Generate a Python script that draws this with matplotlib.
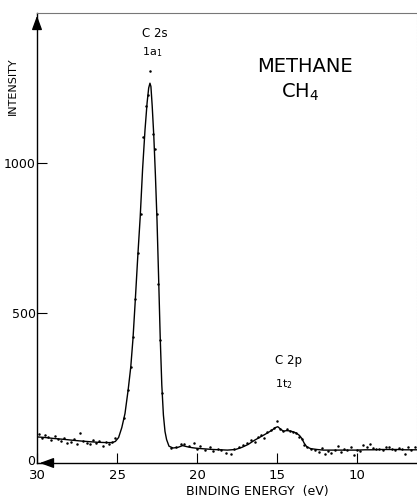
import matplotlib
matplotlib.use("Agg")
import matplotlib.pyplot as plt
import matplotlib.transforms as mtransforms

# ---------------------------------------------------------------------------
# Data
# ---------------------------------------------------------------------------
# smoothed curve through the measured points
curve_e = [30.0, 29.5, 29.0, 28.35, 27.8, 27.2, 26.7, 26.2, 25.6, 25.3,
           25.1, 24.9, 24.7, 24.5, 24.3, 24.14, 24.0, 23.86, 23.7, 23.55,
           23.4, 23.25, 23.12, 23.02, 22.94, 22.88, 22.8, 22.7, 22.6, 22.5,
           22.4, 22.3, 22.2, 22.1, 22.0, 21.9, 21.75, 21.5, 21.2, 20.9,
           20.6, 20.3, 20.0, 19.5, 19.0, 18.5, 18.1, 17.6, 17.2, 16.8,
           16.4, 16.0, 15.6, 15.3, 15.1, 14.95, 14.8, 14.6, 14.4, 14.2,
           14.0, 13.8, 13.6, 13.45, 13.3, 13.14, 12.9, 12.5, 12.1, 11.6,
           11.0, 10.5, 10.0, 9.5, 9.0, 8.5, 7.94, 7.5, 7.0, 6.6, 6.25]
curve_i = [87, 85, 82, 79, 76, 73, 71, 69, 68, 68,
           72, 85, 118, 165, 245, 320, 415, 540, 690, 820,
           980, 1110, 1200, 1250, 1266, 1255, 1190, 1090, 960, 810,
           620, 420, 260, 160, 105, 78, 56, 50, 52, 58,
           54, 51, 49, 47, 45, 44, 43, 45, 52, 62,
           76, 88, 100, 110, 118, 121, 114, 106, 108, 107,
           104, 100, 92, 82, 66, 54, 48, 45, 43, 43,
           43, 43, 43, 44, 44, 45, 45, 45, 44, 44, 44]

# individual counts
dots_e = [29.9, 29.7, 29.5, 29.3, 29.1, 28.9, 28.7, 28.5, 28.3, 28.1,
          27.9, 27.7, 27.5, 27.3, 27.1, 26.9, 26.7, 26.5, 26.3, 26.1,
          25.9, 25.7, 25.5, 25.3, 25.1,
          24.58, 24.29, 24.14, 24.0, 23.86, 23.67, 23.5, 23.36, 23.21, 23.04,
          22.94, 22.77, 22.63, 22.5, 22.42, 22.31, 22.19,
          21.6, 21.3, 21.0, 20.8, 20.5, 20.2, 20.0, 19.8, 19.5, 19.2,
          19.0, 18.7, 18.5, 18.2, 17.9, 17.7, 17.4, 17.1,
          16.9, 16.6, 16.4, 16.2, 16.0, 15.8, 15.6, 15.4, 15.2, 15.0,
          14.8, 14.6, 14.4, 14.2, 14.0, 13.8, 13.6, 13.45, 13.3, 13.1,
          12.9, 12.6, 12.4, 12.2, 12.0, 11.8, 11.6, 11.4, 11.2, 11.0,
          10.8, 10.6, 10.4, 10.2, 10.0, 9.8, 9.6, 9.4, 9.2, 9.0,
          8.8, 8.6, 8.4, 8.2, 8.0, 7.8, 7.6, 7.4, 7.2, 7.0,
          6.8, 6.6, 6.4]
dots_i = [96, 84, 92, 86, 78, 90, 81, 74, 85, 66,
          70, 79, 64, 100, 72, 68, 62, 76, 66, 73,
          58, 69, 64, 71, 82,
          150, 243, 319, 419, 548, 701, 831, 1086, 1189, 1228,
          1308, 1097, 1047, 831, 598, 409, 233,
          50, 55, 62, 64, 58, 66, 48, 56, 45, 52,
          40, 48, 43, 35, 30, 46, 52, 60,
          66, 78, 70, 88, 92, 84, 103, 110, 118, 140,
          112, 106, 112, 108, 104, 100, 88, 80, 60, 52,
          48, 44, 38, 50, 30, 40, 34, 44, 58, 37,
          46, 42, 52, 28, 45, 40, 60, 55, 62, 50,
          46, 48, 42, 55, 52, 48, 44, 50, 47, 30,
          52, 45, 55]

x_ticks = [30, 25, 20, 15, 10]
y_ticks = [0, 500, 1000]

plt.rcParams["mathtext.default"] = "regular"

# ---------------------------------------------------------------------------
# Figure
# ---------------------------------------------------------------------------
fig = plt.figure(figsize=(4.17, 4.98), dpi=100)
ax = fig.add_axes([37 / 417, 35 / 498, 380 / 417, 450 / 498])

ax.plot(curve_e, curve_i, color="black", lw=1.0, zorder=3)
ax.plot(dots_e, dots_i, "o", color="black", ms=1.8, mew=0, zorder=4)

ax.set_xlim(30, 6.25)
ax.set_ylim(0, 1500)
ax.set_xticks(x_ticks)
ax.set_xticklabels([str(v) for v in x_ticks], fontsize=9.5)
ax.set_yticks(y_ticks)
ax.set_yticklabels([str(v) for v in y_ticks], fontsize=9)
ax.tick_params(direction="in", length=7, width=0.8, pad=4)
ax.tick_params(axis="y", pad=1)

# lift the "0" a little so it clears the "30" below it
zero_lbl = ax.get_yticklabels()[0]
zero_lbl.set_transform(zero_lbl.get_transform() +
                       mtransforms.ScaledTranslation(0, 3 / 100, fig.dpi_scale_trans))

for s in ("left", "bottom"):
    ax.spines[s].set_linewidth(1.0)
ax.spines["top"].set_color("#777777")
ax.spines["top"].set_linewidth(0.8)
ax.spines["right"].set_color("#cccccc")
ax.spines["right"].set_linestyle(":")
ax.spines["right"].set_linewidth(0.8)

ax.set_xlabel("BINDING ENERGY  (eV)", fontsize=9)
ax.xaxis.set_label_coords(0.58, -0.049)
ax.set_ylabel("INTENSITY", fontsize=8)
ax.yaxis.set_label_coords(-0.05, 0.838)

# axis arrows
ax.annotate("", xy=(0, 1.0), xytext=(0, 0.97), xycoords="axes fraction",
            arrowprops=dict(arrowstyle="-|>,head_length=0.6,head_width=0.22",
                            color="black", lw=1.0, mutation_scale=14),
            annotation_clip=False)
ax.annotate("", xy=(0, 0), xytext=(0.04, 0), xycoords="axes fraction",
            arrowprops=dict(arrowstyle="-|>,head_length=0.6,head_width=0.22",
                            color="black", lw=1.0, mutation_scale=14),
            annotation_clip=False)

# peak labels
ax.text(22.63, 1433, "C 2s", fontsize=8.5, ha="center", va="center")
ax.text(22.81, 1370, r"1a$_1$", fontsize=8, ha="center", va="center")
ax.text(14.31, 343, "C 2p", fontsize=8.5, ha="center", va="center")
ax.text(14.56, 263, r"1t$_2$", fontsize=8, ha="center", va="center")
ax.text(13.25, 1320, "METHANE", fontsize=14, ha="center", va="center")
ax.text(13.56, 1237, r"CH$_4$", fontsize=14, ha="center", va="center")

fig.savefig("out.png", dpi=100, facecolor="white")
